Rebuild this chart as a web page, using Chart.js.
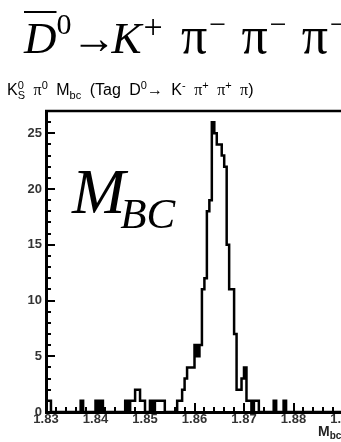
<!DOCTYPE html>
<html>
<head>
<meta charset="utf-8">
<script src="https://cdn.jsdelivr.net/npm/chart.js@4/dist/chart.umd.min.js"></script>
<style>
  html, body { margin: 0; padding: 0; background: #fff; }
  body { width: 341px; height: 442px; overflow: hidden; position: relative; }
  #wrap { position: absolute; left: 0; top: 0; width: 400px; height: 442px; }
  canvas { position: absolute; left: 0; top: 0; }
  .formula {
    position: absolute; left: 24px; top: 13px; white-space: nowrap; word-spacing: 4px;
    font-family: "Liberation Serif", "DejaVu Serif", serif; font-size: 45px; line-height: 45px; color: #000;
  }
  .formula i { font-style: italic; }
  .formula .up { position: relative; font-size: 30px; top: -19px; }
  .formula .plus { font-size: 34px; top: -15px; margin-left: 2px; margin-right: 3px; }
  .formula .pi { font-size: 52px; margin-right: 2px; }
  .formula .arr { margin-right: -5px; }
  .bar { text-decoration: overline; text-decoration-thickness: 2px; }
  .subtitle {
    position: absolute; left: 7px; top: 82px; white-space: nowrap; word-spacing: 4px;
    font-family: "Liberation Sans", Arial, sans-serif; font-size: 16px; line-height: 16px; color: #000;
  }
  .subtitle .s { position: relative; font-size: 11px; }
  .subtitle .gr { font-family: "Liberation Serif", serif; font-size: 16px; }
  .mbc {
    position: absolute; left: 72px; top: 160px; white-space: nowrap;
    font-family: "Liberation Serif", serif; font-style: italic; color: #000;
  }
  .mbc .big { font-size: 64px; line-height: 64px; }
  .mbc .lo { position: relative; font-size: 43px; top: 15px; margin-left: -5px; }
  .axtitle {
    position: absolute; left: 318px; top: 424px; white-space: nowrap;
    font-family: "Liberation Sans Narrow", "Liberation Sans", sans-serif; font-weight: bold; color: #222;
    font-size: 14px; line-height: 14px;
  }
  .axtitle .lo { position: relative; font-size: 10px; top: 3px; }
</style>
</head>
<body>
<div id="wrap">
  <canvas id="hist" width="400" height="442"></canvas>
  <div class="formula"><i class="bar">D</i><span class="up">0</span><span class="arr">→</span><i>K</i><span class="up plus">+</span> <span class="pi">π</span><span class="up">−</span> <span class="pi">π</span><span class="up">−</span> <span class="pi">π</span><span class="up">−</span></div>
  <div class="subtitle">K<span class="s" style="top:-6px">0</span><span class="s" style="top:4px;margin-left:-6px">S</span> <span class="gr">π</span><span class="s" style="top:-6px">0</span> M<span class="s" style="top:4px">bc</span> (Tag D<span class="s" style="top:-6px">0</span>→ K<span class="s" style="top:-6px">-</span> <span class="gr">π</span><span class="s" style="top:-6px">+</span> <span class="gr">π</span><span class="s" style="top:-6px">+</span> <span class="gr">π</span>)</div>
  <div class="mbc"><span class="big">M</span><span class="lo">BC</span></div>
  <div class="axtitle">M<span class="lo">bc</span></div>
</div>
<script>
// Beam-constrained mass histogram, 120 bins between 1.83 and 1.89 GeV
const massRange = [1.83, 1.89];
const binCounts = [
  1, 1, 0, 0, 0, 0, 0, 0, 0, 0,
  0, 0, 0, 0, 1, 0, 0, 0, 0, 0,
  1, 0, 1, 0, 0, 0, 0, 0, 0, 0,
  0, 0, 1, 0, 1, 1, 2, 2, 1, 1,
  0, 0, 1, 0, 1, 1, 1, 1, 0, 0,
  0, 0, 0, 1, 1, 2, 3, 4, 4, 4,
  6, 5, 6, 11, 12, 18, 19, 26, 25, 24,
  24, 23, 22, 15, 11, 11, 7, 2, 2, 3,
  4, 1, 1, 0, 1, 1, 0, 0, 0, 0,
  0, 0, 1, 0, 0, 0, 1, 0, 0, 0,
  0, 0, 0, 0, 0, 0, 0, 0, 0, 0,
  0, 0, 0, 0, 0, 0, 0, 0, 0, 0
];
const xTickLabels = ['1.83', '1.84', '1.85', '1.86', '1.87', '1.88', '1.89'];
const yTickLabels = [0, 5, 10, 15, 20, 25];
const yMax = 27;

// Step outline: one point at each bin's low edge, plus the closing edge
const binWidth = (massRange[1] - massRange[0]) / binCounts.length;
const steps = [{ x: massRange[0], y: 0 }];
binCounts.forEach((c, i) => steps.push({ x: massRange[0] + i * binWidth, y: c }));
steps.push({ x: massRange[1], y: binCounts[binCounts.length - 1] });

// Inward-pointing ticks and the top frame line
const frameTicks = {
  id: 'frameTicks',
  beforeDatasetsDraw(chart) {
    const { ctx, chartArea: a, scales: { x, y } } = chart;
    ctx.save();
    ctx.strokeStyle = '#000';
    ctx.lineWidth = 2;
    ctx.beginPath();
    for (let v = 0; v <= yMax; v++) {
      const py = Math.round(y.getPixelForValue(v));
      const len = v % 5 === 0 ? 9 : 5;
      ctx.moveTo(a.left, py); ctx.lineTo(a.left + len, py);
    }
    for (let k = 0; k <= 30; k++) {
      const v = massRange[0] + k * 0.002;
      const px = Math.round(x.getPixelForValue(v));
      const len = k % 5 === 0 ? 9 : 5;
      ctx.moveTo(px, a.bottom); ctx.lineTo(px, a.bottom - len);
    }
    ctx.stroke();
    ctx.lineWidth = 2.5;
    ctx.beginPath();
    ctx.moveTo(a.left - 1, a.top); ctx.lineTo(a.right, a.top);
    ctx.lineTo(a.right, a.bottom);
    ctx.stroke();
    ctx.restore();
  }
};

const tickFont = { family: '"Liberation Sans Narrow", "Liberation Sans", sans-serif', size: 13, weight: 'bold' };

new Chart(document.getElementById('hist'), {
  type: 'line',
  data: {
    datasets: [{
      data: steps,
      stepped: 'before',
      borderColor: '#000',
      borderWidth: 2.5,
      pointRadius: 0,
      fill: false,
      tension: 0
    }]
  },
  options: {
    responsive: false,
    animation: false,
    devicePixelRatio: 1,
    layout: { padding: { top: 111, right: 57, left: 0, bottom: 0 } },
    plugins: { legend: { display: false }, tooltip: { enabled: false }, title: { display: false } },
    scales: {
      x: {
        type: 'linear',
        min: massRange[0],
        max: massRange[1],
        afterFit(s) { s.height = 30; },
        afterBuildTicks(s) { s.ticks = xTickLabels.map(t => ({ value: parseFloat(t) })); },
        ticks: {
          color: '#333', font: tickFont, padding: 0, maxRotation: 0, autoSkip: false,
          callback: (v, i) => xTickLabels[i]
        },
        grid: { display: false, drawTicks: false },
        border: { display: true, color: '#000', width: 3 }
      },
      y: {
        type: 'linear',
        min: 0,
        max: yMax,
        afterFit(s) { s.width = 46; },
        afterBuildTicks(s) { s.ticks = yTickLabels.map(v => ({ value: v })); },
        ticks: { color: '#333', font: tickFont, padding: 4, autoSkip: false, callback: v => String(v) },
        grid: { display: false, drawTicks: false },
        border: { display: true, color: '#000', width: 3 }
      }
    }
  },
  plugins: [frameTicks]
});
</script>
</body>
</html>
